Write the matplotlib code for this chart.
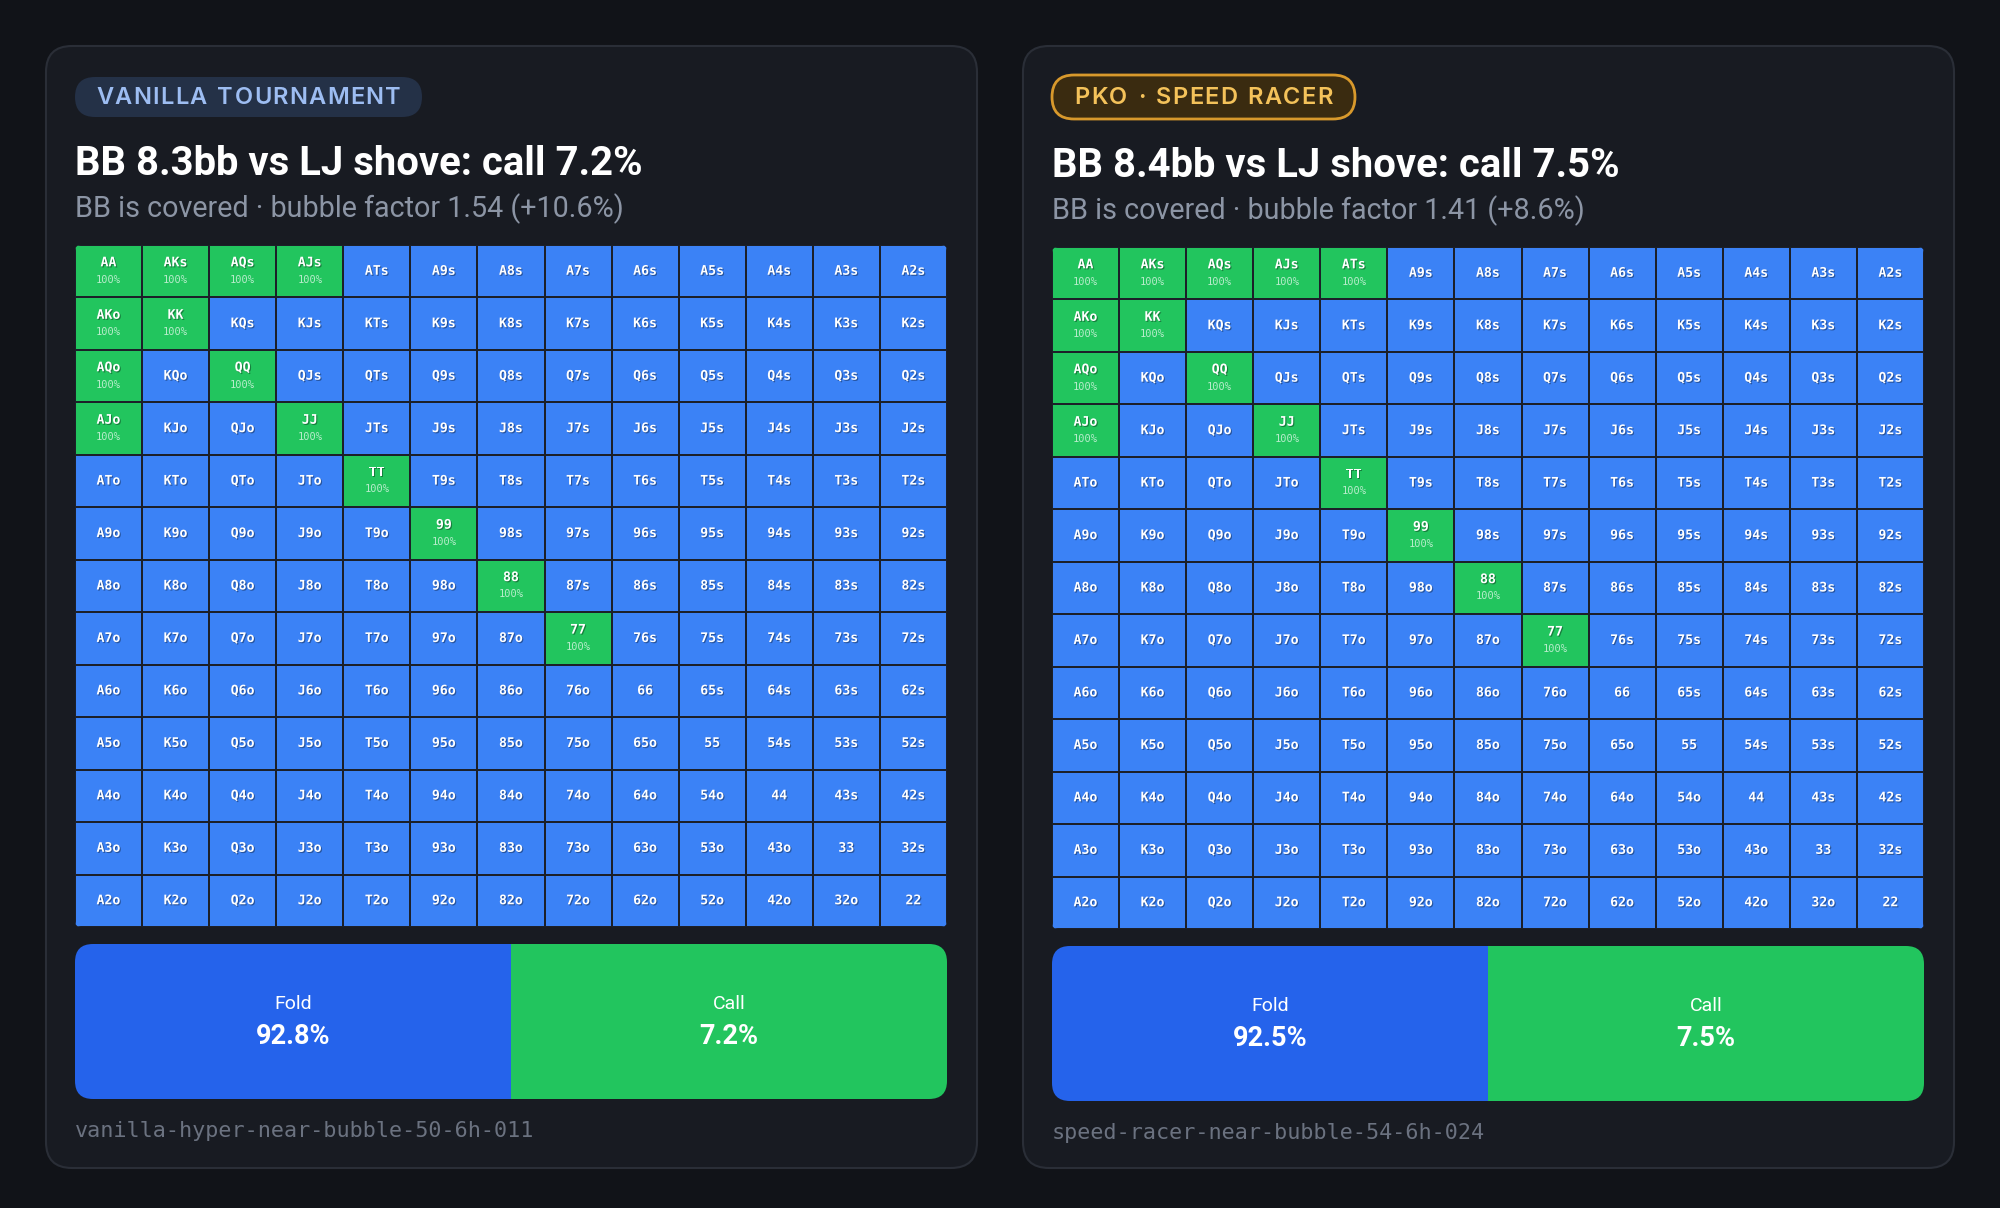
import matplotlib
matplotlib.use("Agg")
import matplotlib.pyplot as plt
import matplotlib.patheffects as pe
from matplotlib.patches import FancyBboxPatch
from matplotlib.colors import ListedColormap
import numpy as np

# ── data ───────────────────────────────────────────────────────────────────────
RANKS = list("AKQJT98765432")

badges    = ["VANILLA TOURNAMENT", "PKO · SPEED RACER"]
titles    = ["BB 8.3bb vs LJ shove: call 7.2%", "BB 8.4bb vs LJ shove: call 7.5%"]
subtitles = ["BB is covered · bubble factor 1.54 (+10.6%)",
             "BB is covered · bubble factor 1.41 (+8.6%)"]
footers   = ["vanilla-hyper-near-bubble-50-6h-011", "speed-racer-near-bubble-54-6h-024"]

call_hands = [
    ["AA", "KK", "QQ", "JJ", "TT", "99", "88", "77", "AKs", "AQs", "AJs", "AKo", "AQo", "AJo"],
    ["AA", "KK", "QQ", "JJ", "TT", "99", "88", "77", "AKs", "AQs", "AJs", "ATs", "AKo", "AQo", "AJo"],
]
call_freq = [
    [100] * 14,
    [100] * 15,
]
action_labels = ["Fold", "Call"]
action_pct    = [[92.8, 7.2], [92.5, 7.5]]

# ── style ──────────────────────────────────────────────────────────────────────
BG        = "#111318"
CARD      = "#181b22"
CARD_EDGE = "#2a2e37"
BLUE      = "#3b82f6"
GREEN     = "#22c55e"
FOLD_C    = "#2563eb"
GRID_LINE = "#1c2029"
SANS  = ["Roboto", "DejaVu Sans"]
BADGE = ["Inter", "DejaVu Sans"]
MONO  = ["DejaVu Sans Mono"]

badge_style = [
    dict(fc="#243147", ec="#243147", tc="#9dbdf2", lw=0),
    dict(fc="#3a2b10", ec="#d8992c", tc="#f4c25a", lw=2.0),
]


def hand_name(i, j):
    if i == j:
        return RANKS[i] + RANKS[j]
    if i < j:
        return RANKS[i] + RANKS[j] + "s"
    return RANKS[j] + RANKS[i] + "o"


W, H = 2000, 1208
fig = plt.figure(figsize=(20, 12.08), dpi=100, facecolor=BG)
bg = fig.add_axes([0, 0, 1, 1])
bg.set_xlim(0, W)
bg.set_ylim(H, 0)
bg.axis("off")
bg.set_facecolor(BG)
renderer = fig.canvas.get_renderer()


def fig_rect(x0, y0, w, h):
    return [x0 / W, 1 - (y0 + h) / H, w / W, h / H]


def spaced_text(x_center, y, s, spacing, **kw):
    # draw text char by char with extra tracking, centred on x_center
    widths = []
    for ch in s:
        t = bg.text(0, 0, ch if ch != " " else "n", **kw)
        bb = t.get_window_extent(renderer)
        w = bb.width if ch != " " else bb.width * 0.55
        widths.append(w)
        t.remove()
    total = sum(widths) + spacing * (len(s) - 1)
    x = x_center - total / 2
    for ch, w in zip(s, widths):
        if ch != " ":
            bg.text(x, y, ch, ha="left", va="center", **kw)
        x += w + spacing


shadow = [pe.withSimplePatchShadow(offset=(0.8, -0.8), shadow_rgbFace="black", alpha=0.35)]

card_x = [46, 1023]
for k in range(2):
    cx = card_x[k]
    dy = 0 if k == 0 else 2
    card = FancyBboxPatch((cx, 46), 931, 1122, boxstyle="round,pad=0,rounding_size=26",
                          fc=CARD, ec=CARD_EDGE, lw=1.5, zorder=1)
    bg.add_patch(card)

    # badge
    bs = badge_style[k]
    bw = 347 if k == 0 else 303
    bh = 40 if k == 0 else 44
    by = 77 if k == 0 else 75
    bx = cx + 29
    badge = FancyBboxPatch((bx, by), bw, bh, boxstyle=f"round,pad=0,rounding_size={bh/2}",
                           fc=bs["fc"], ec=bs["ec"], lw=bs["lw"], zorder=2)
    bg.add_patch(badge)
    spaced_text(bx + bw / 2, by + bh / 2 + 1, badges[k], 1.3, color=bs["tc"], fontsize=17,
                fontweight="semibold", family=BADGE, zorder=3)

    # titles
    bg.text(cx + 29, 175 + dy, titles[k], color="white", fontsize=28.8, fontweight="bold",
            family=SANS, ha="left", va="baseline", zorder=3)
    bg.text(cx + 29, 217 + dy, subtitles[k], color="#8c95a5", fontsize=20.7,
            family=SANS, ha="left", va="baseline", zorder=3)

    # hand grid
    gx, gy, gw, gh = cx + 29, 245 + dy, 872, 682
    freq = np.zeros((13, 13))
    for h_name, f in zip(call_hands[k], call_freq[k]):
        for i in range(13):
            for j in range(13):
                if hand_name(i, j) == h_name:
                    freq[i, j] = f
    gax = fig.add_axes(fig_rect(gx, gy, gw, gh))
    gax.set_xlim(0, 13)
    gax.set_ylim(13, 0)
    gax.axis("off")
    mesh = gax.pcolormesh(np.arange(14), np.arange(14), (freq > 0).astype(int),
                          cmap=ListedColormap([BLUE, GREEN]), vmin=0, vmax=1,
                          edgecolors=GRID_LINE, linewidth=1.4)
    clip = FancyBboxPatch((gx, gy), gw, gh, boxstyle="round,pad=0,rounding_size=6",
                          transform=bg.transData, fc="none", ec="none")
    mesh.set_clip_path(clip)
    for i in range(13):
        for j in range(13):
            name = hand_name(i, j)
            if freq[i, j] > 0:
                gax.text(j + 0.5, i + 0.34, name, color="white", fontsize=9.5,
                         fontweight="bold", family=MONO, ha="center", va="center",
                         path_effects=shadow)
                gax.text(j + 0.5, i + 0.66, f"{freq[i, j]:.0f}%", color="#d2f3de",
                         fontsize=7.5, family=MONO, ha="center", va="center", alpha=0.85)
            else:
                gax.text(j + 0.5, i + 0.5, name, color="white", fontsize=9.5,
                         fontweight="bold", family=MONO, ha="center", va="center",
                         path_effects=shadow)

    # action bar
    ax_y = 944 + dy
    bax = fig.add_axes(fig_rect(gx, ax_y, gw, 155))
    bax.set_xlim(0, 2)
    bax.set_ylim(0, 1)
    bax.axis("off")
    bars = bax.barh([0.5, 0.5], [1, 1], left=[0, 1], height=1.0,
                    color=[FOLD_C, GREEN], linewidth=0)
    bclip = FancyBboxPatch((gx, ax_y), gw, 155, boxstyle="round,pad=0,rounding_size=18",
                           transform=bg.transData, fc="none", ec="none")
    for b in bars:
        b.set_clip_path(bclip)
    for n in range(2):
        bax.text(n + 0.5, 0.61, action_labels[n], color="white", fontsize=14,
                 family=SANS, ha="center", va="center")
        bax.text(n + 0.5, 0.405, f"{action_pct[k][n]:.1f}%", color="white", fontsize=19.5,
                 fontweight="bold", family=SANS, ha="center", va="center")

    bg.text(cx + 29, 1131 + dy, footers[k], color="#6b7280", fontsize=15.7,
            family=MONO, ha="left", va="center", zorder=3)

fig.savefig("out.png", dpi=100, facecolor=BG)
